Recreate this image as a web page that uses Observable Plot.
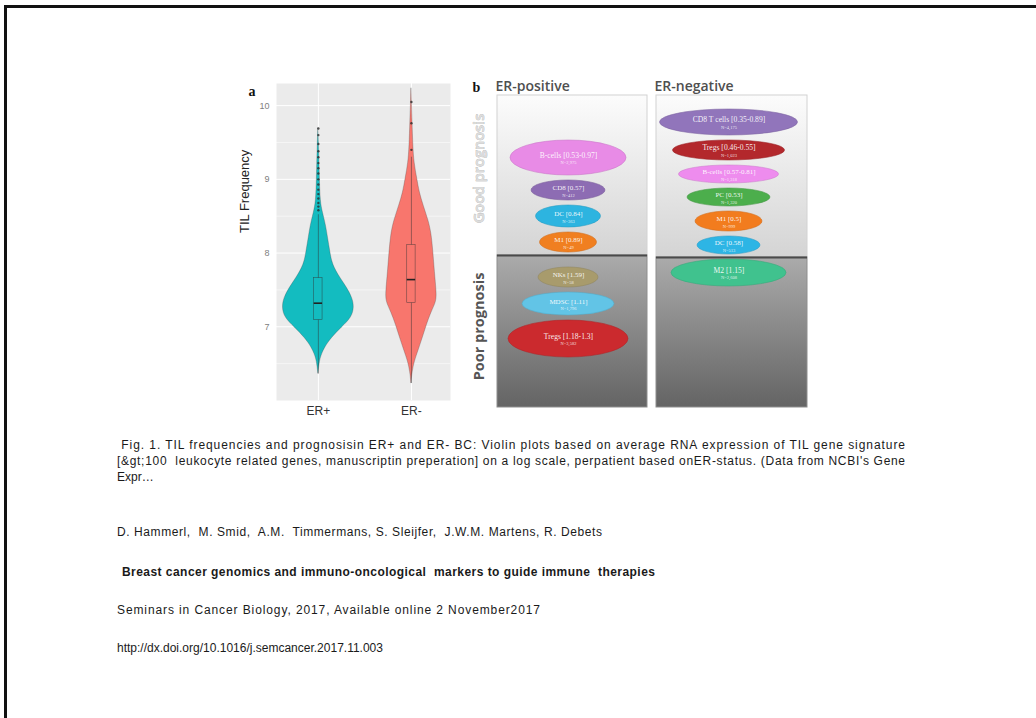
<!DOCTYPE html>
<html><head><meta charset="utf-8">
<script src="https://cdn.jsdelivr.net/npm/d3@7"></script>
<script src="https://cdn.jsdelivr.net/npm/@observablehq/plot@0.6"></script>
<style>
body{margin:0;background:#fff;}
#slide{position:relative;width:1036px;height:718px;overflow:hidden;background:#fff;font-family:"Liberation Sans",Arial,sans-serif;}
#frame{position:absolute;left:4px;top:5px;width:1100px;height:800px;border-top:3px solid #111;border-left:3px solid #111;}
.abs{position:absolute;}
.cap{position:absolute;font-size:12px;line-height:14px;color:#1a1a1a;white-space:pre;}
</style></head><body>
<div id="slide">
  <div id="frame"></div>
  <div id="panelA" class="abs" style="left:230px;top:75px;"></div>
  <div id="panelB" class="abs" style="left:470px;top:75px;"></div>
  <div class="cap" data-right="905" style="left:117px;top:438px;"> Fig. 1. TIL frequencies and prognosisin ER+ and ER- BC: Violin plots based on average RNA expression of TIL gene signature</div>
  <div class="cap" data-right="905" style="left:117px;top:454px;">[&amp;gt;100  leukocyte related genes, manuscriptin preperation] on a log scale, perpatient based onER-status. (Data from NCBI's Gene</div>
  <div class="cap" style="left:117px;top:470px;">Expr…</div>
  <div class="cap" data-right="602" style="left:117px;top:525px;">D. Hammerl,  M. Smid,  A.M.  Timmermans, S. Sleijfer,  J.W.M. Martens, R. Debets</div>
  <div class="cap" data-right="655" style="left:122px;top:565px;font-weight:bold;">Breast cancer genomics and immuno-oncological  markers to guide immune  therapies</div>
  <div class="cap" data-right="540" style="left:117px;top:603px;">Seminars in Cancer Biology, 2017, Available online 2 November2017</div>
  <div class="cap" style="left:117px;top:641px;">http://dx.doi.org/10.1016/j.semcancer.2017.11.003</div>
</div>
<script>
// ---------- Panel a data ----------
const groups = ["ER+", "ER-"];
const groupColors = ["#13bcc0", "#f8766d"];
const yTicks = [7, 8, 9, 10];
const erPlusLevels  = [9.69, 9.45, 9.0, 8.69, 8.55, 8.37, 8.2, 8.02, 7.84, 7.66, 7.53, 7.39, 7.26, 7.12, 6.99, 6.85, 6.72, 6.63, 6.54, 6.36];
const erPlusDensity = [0, 0.02, 0.04, 0.06, 0.12, 0.21, 0.26, 0.32, 0.38, 0.59, 0.77, 0.92, 0.97, 0.9, 0.63, 0.36, 0.18, 0.1, 0.04, 0];
const erMinusLevels  = [10.23, 9.76, 9.45, 9.22, 9.0, 8.82, 8.64, 8.46, 8.28, 8.01, 7.74, 7.47, 7.34, 7.2, 7.02, 6.84, 6.66, 6.53, 6.39, 6.23];
const erMinusDensity = [0, 0.03, 0.05, 0.08, 0.16, 0.22, 0.33, 0.45, 0.54, 0.59, 0.63, 0.68, 0.68, 0.54, 0.41, 0.3, 0.18, 0.09, 0.03, 0];
const boxQ1 = [7.09, 7.32];
const boxMedian = [7.32, 7.64];
const boxQ3 = [7.66, 8.11];
const whiskerLow = [6.36, 6.23];
const whiskerHigh = [8.52, 9.3];
const erPlusOutliers = [8.58, 8.63, 8.68, 8.74, 8.8, 8.86, 8.93, 9.0, 9.08, 9.15, 9.22, 9.3, 9.38, 9.48, 9.6, 9.69];
const erMinusOutliers = [9.4, 9.76, 10.05];

// ---------- Panel b data ----------
const subtypes = ["ER-positive", "ER-negative"];
const erPosCells = ["B-cells [0.53-0.97]", "CD8 [0.57]", "DC [0.84]", "M1 [0.89]", "NKs [1.59]", "MDSC [1.11]", "Tregs [1.18-1.3]"];
const erPosN = ["N=2,975", "N=412", "N=363", "N=49", "N=58", "N=1,796", "N=3,582"];
const erPosPrognosis = ["Good", "Good", "Good", "Good", "Poor", "Poor", "Poor"];
const erNegCells = ["CD8 T cells [0.35-0.89]", "Tregs [0.46-0.55]", "B-cells [0.57-0.81]", "PC [0.53]", "M1 [0.5]", "DC [0.58]", "M2 [1.15]"];
const erNegN = ["N=4,175", "N=1,023", "N=1,318", "N=1,320", "N=999", "N=513", "N=2,608"];
const erNegPrognosis = ["Good", "Good", "Good", "Good", "Good", "Good", "Poor"];
const prognosisLabels = ["Good prognosis", "Poor prognosis"];

// ---------- styles / layout (not data) ----------
const erPosColors = ["#e88be6", "#8d6cb3", "#2db4e0", "#f07f20", "#a89b6c", "#62c4e6", "#cb2a2e"];
const erNegColors = ["#9175bb", "#b3282c", "#ee8cee", "#4cae4c", "#f27c1e", "#2db5e5", "#40c28e"];
const erPosSizes = [[116, 35], [74, 20], [65, 22], [57, 20], [60, 20], [92, 23], [120, 37]];
const erNegSizes = [[138, 26], [112, 20], [100, 18], [83, 18], [67, 20], [63, 18], [115, 27]];

// ===== Panel a =====
const rows = [];
erPlusLevels.forEach((v, i) => rows.push({group: "ER+", pos: 1, value: v, dens: erPlusDensity[i]}));
erMinusLevels.forEach((v, i) => rows.push({group: "ER-", pos: 2, value: v, dens: erMinusDensity[i]}));
const stats = groups.map((g, i) => ({group: g, pos: i + 1, q1: boxQ1[i], med: boxMedian[i], q3: boxQ3[i], lo: whiskerLow[i], hi: whiskerHigh[i]}));
const outliers = erPlusOutliers.map(v => ({pos: 1, value: v})).concat(erMinusOutliers.map(v => ({pos: 2, value: v})));
const yMinor = d3.range(6.5, 10.3, 1);
const k = 0.4, bw = 0.045;

const plotA = Plot.plot({
  width: 240, height: 350,
  marginLeft: 46, marginRight: 20, marginTop: 8, marginBottom: 25,
  x: {domain: [0.55, 2.42], axis: null},
  y: {domain: [6.0, 10.3], axis: null},
  color: {domain: groups, range: groupColors},
  style: {fontFamily: "Liberation Sans, Arial, sans-serif", background: "transparent", overflow: "visible"},
  marks: [
    Plot.frame({fill: "#ebebeb", stroke: "none"}),
    Plot.ruleY(yMinor, {stroke: "#fff", strokeWidth: 0.5}),
    Plot.ruleY(yTicks, {stroke: "#fff", strokeWidth: 1}),
    Plot.ruleX([1, 2], {stroke: "#fff", strokeWidth: 1}),
    Plot.areaX(rows, {y: "value", x1: d => d.pos - k * d.dens, x2: d => d.pos + k * d.dens, z: "group", fill: "group", curve: "basis", stroke: "#3d3d3d", strokeWidth: 0.5, strokeOpacity: 0.55}),
    Plot.ruleX(stats, {x: "pos", y1: "lo", y2: "hi", stroke: "#333", strokeWidth: 0.6, strokeOpacity: 0.8}),
    Plot.rect(stats, {x1: d => d.pos - bw, x2: d => d.pos + bw, y1: "q1", y2: "q3", fill: "group", stroke: "#333", strokeWidth: 0.6, strokeOpacity: 0.7}),
    Plot.ruleY(stats, {y: "med", x1: d => d.pos - bw, x2: d => d.pos + bw, stroke: "#222", strokeWidth: 1.6}),
    Plot.dot(outliers, {x: "pos", y: "value", r: 1.2, fill: "#2a2a2a", fillOpacity: 0.8}),
    Plot.text(yTicks, {y: d => d, text: d => String(d), frameAnchor: "left", textAnchor: "end", dx: -7, fill: "#808080", fontSize: 9}),
    Plot.text(groups, {x: (d, i) => i + 1, text: d => d, frameAnchor: "bottom", dy: 14, fill: "#333", fontSize: 12}),
    Plot.text(["TIL Frequency"], {frameAnchor: "left", dx: -32, dy: -9, rotate: -90, fill: "#222", fontSize: 13}),
    Plot.text(["a"], {frameAnchor: "top-left", dx: -28, dy: 3, fontWeight: "bold", fontFamily: "Liberation Serif, serif", fontSize: 14, fill: "#111"})
  ]
});
document.getElementById("panelA").appendChild(plotA);

// ===== Panel b =====
const boxes = [
  {name: subtypes[0], x1: 0, x2: 150, divider: 160, poorOffset: 12, cxShift: -4},
  {name: subtypes[1], x1: 159, x2: 310, divider: 162, poorOffset: 2, cxShift: -3}
];
const gap = 5;
function buildEllipses(box, names, ns, progs, colors, sizes) {
  const out = names.map((n, i) => ({name: n, n: ns[i], prog: progs[i], color: colors[i], w: sizes[i][0], h: sizes[i][1], cx: (box.x1 + box.x2) / 2 + box.cxShift}));
  let bottom = box.divider - 3;
  for (let i = out.length - 1; i >= 0; i--) {
    if (out[i].prog !== "Good") continue;
    out[i].y2 = bottom; out[i].y1 = bottom - out[i].h; bottom = out[i].y1 - gap;
  }
  let top = box.divider + box.poorOffset;
  for (const e of out) {
    if (e.prog !== "Poor") continue;
    e.y1 = top; e.y2 = top + e.h; top = e.y2 + gap;
  }
  out.forEach(e => e.cy = (e.y1 + e.y2) / 2);
  return out;
}
const ellipses = buildEllipses(boxes[0], erPosCells, erPosN, erPosPrognosis, erPosColors, erPosSizes)
  .concat(buildEllipses(boxes[1], erNegCells, erNegN, erNegPrognosis, erNegColors, erNegSizes));

const ellipseMarks = ellipses.map(e => Plot.rect([e], {
  x1: d => d.cx - d.w / 2, x2: d => d.cx + d.w / 2, y1: "y1", y2: "y2",
  fill: e.color, rx: e.w / 2, ry: e.h / 2, stroke: d3.color(e.color).darker(0.4).formatHex(), strokeWidth: 0.7, strokeOpacity: 0.8
}));

const plotB = Plot.plot({
  width: 345, height: 340,
  marginLeft: 27, marginRight: 8, marginTop: 20, marginBottom: 8,
  x: {domain: [0, 310], axis: null},
  y: {domain: [0, 312], reverse: true, axis: null},
  style: {fontFamily: "Open Sans, sans-serif", background: "transparent", overflow: "visible"},
  marks: [
    Plot.rect(boxes, {x1: "x1", x2: "x2", y1: () => 0, y2: "divider", fill: "url(#goodGrad)", stroke: "#d2d2d2", strokeWidth: 1}),
    Plot.rect(boxes, {x1: "x1", x2: "x2", y1: "divider", y2: () => 312, fill: "url(#poorGrad)", stroke: "#8e8e8e", strokeWidth: 1}),
    Plot.ruleY(boxes, {y: "divider", x1: "x1", x2: "x2", stroke: "#4a4a4a", strokeWidth: 2}),
    ...ellipseMarks,
    Plot.text(ellipses, {x: "cx", y: "cy", text: "name", dy: -2.5, fill: "#fff", fontFamily: "Liberation Serif, serif", fontSize: d => d.w > 100 ? 7.6 : 7, fillOpacity: 0.92}),
    Plot.text(ellipses, {x: "cx", y: "cy", text: "n", dy: 5, fill: "#fff", fontFamily: "Liberation Serif, serif", fontSize: 4.5, fillOpacity: 0.85}),
    Plot.text(boxes, {x: "x1", y: () => 0, text: "name", textAnchor: "start", dx: -2, dy: -9, fontWeight: 600, fontSize: 14, fill: "#4f4f4f"}),
    Plot.text(["b"], {x: () => 0, y: () => 0, dx: -21, dy: -8, fontWeight: "bold", fontFamily: "Liberation Serif, serif", fontSize: 14, fill: "#111"}),
    Plot.text([prognosisLabels[0]], {x: () => 0, y: () => 73, dx: -18, rotate: -90, fontSize: 14.5, fontWeight: 600, fill: "#dcdcdc", stroke: "#a5a5a5", strokeWidth: 0.5}),
    Plot.text([prognosisLabels[1]], {x: () => 0, y: () => 231, dx: -18, rotate: -90, fontSize: 14.5, fontWeight: 700, fill: "#555"})
  ]
});
// gradients
const defs = d3.select(plotB).insert("defs", ":first-child");
const g1 = defs.append("linearGradient").attr("id", "goodGrad").attr("x1", 0).attr("y1", 0).attr("x2", 0).attr("y2", 1);
g1.append("stop").attr("offset", "0%").attr("stop-color", "#fcfcfc");
g1.append("stop").attr("offset", "100%").attr("stop-color", "#d4d4d4");
const g2 = defs.append("linearGradient").attr("id", "poorGrad").attr("x1", 0).attr("y1", 0).attr("x2", 0).attr("y2", 1);
g2.append("stop").attr("offset", "0%").attr("stop-color", "#ababab");
g2.append("stop").attr("offset", "100%").attr("stop-color", "#646464");
document.getElementById("panelB").appendChild(plotB);

// fit caption lines to the widths they occupy on the slide
document.querySelectorAll(".cap[data-right]").forEach(el => {
  const left = parseFloat(el.style.left);
  const target = +el.dataset.right - left;
  const natural = el.getBoundingClientRect().width;
  const n = Math.max(1, el.textContent.length - 1);
  el.style.letterSpacing = ((target - natural) / n).toFixed(3) + "px";
});
</script>
</body></html>
